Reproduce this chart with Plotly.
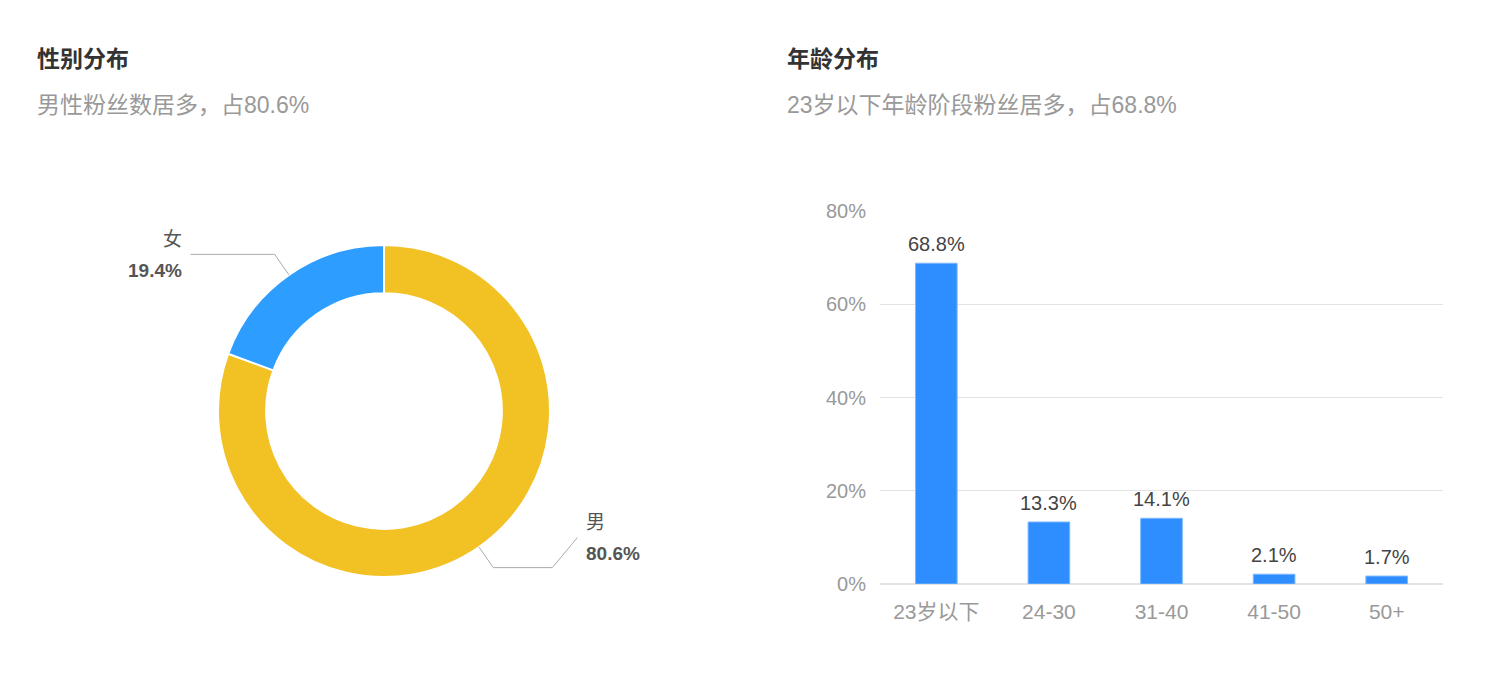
import math

import plotly.graph_objects as go

W, H = 1508, 682
OFF = 8  # page body margin

gender_labels = ["男", "女"]
gender_values = [80.6, 19.4]
gender_colors = ["#F2C124", "#2D9EFF"]

age_labels = ["23岁以下", "24-30", "31-40", "41-50", "50+"]
age_values = [68.8, 13.3, 14.1, 2.1, 1.7]
age_ticks = [0, 20, 40, 60, 80]

FONT = "Liberation Sans, Noto Sans CJK SC, sans-serif"


def fx(x):
    return (x - OFF) / W


def fy(y):
    return 1 - (y - OFF) / H


# donut geometry (pixels)
cx, cy, R = 384, 411, 166

fig = go.Figure()

fig.add_trace(
    go.Pie(
        labels=gender_labels,
        values=gender_values,
        hole=0.71,
        sort=False,
        direction="clockwise",
        rotation=0,
        textinfo="none",
        marker=dict(colors=gender_colors, line=dict(color="white", width=2)),
        domain=dict(x=[fx(cx - R), fx(cx + R)], y=[fy(cy + R), fy(cy - R)]),
        showlegend=False,
        hoverinfo="label+percent",
    )
)

fig.add_trace(
    go.Bar(
        x=age_labels,
        y=[v / 100 for v in age_values],
        width=0.37,
        marker=dict(color="#2E8EFF", line=dict(color="#7DB8FF", width=1)),
        showlegend=False,
        xaxis="x",
        yaxis="y",
    )
)

shapes = []
annotations = []

# leader lines + labels for the donut
total = sum(gender_values)
acc = 0
for lab, val in zip(gender_labels, gender_values):
    mid = math.radians((acc + val / 2) / total * 360)
    acc += val
    sx, sy = cx + R * math.sin(mid), cy - R * math.cos(mid)
    ex, ey = cx + (R + 25) * math.sin(mid), cy - (R + 25) * math.cos(mid)
    if math.sin(mid) < 0:
        hx = ex - 84
        pts = [(sx, sy), (ex, ey), (hx, ey)]
        tx, anchor, ty = hx - 7, "right", ey
    else:
        hx = ex + 59
        pts = [(sx, sy), (ex, ey), (hx, ey), (hx + 25, ey - 30)]
        tx, anchor, ty = hx + 32, "left", ey - 30
    path = "M " + " L ".join(f"{fx(px)},{fy(py)}" for px, py in pts)
    shapes.append(
        dict(type="path", xref="paper", yref="paper", path=path,
             line=dict(color="#AAAAAA", width=1))
    )
    annotations.append(
        dict(x=fx(tx), y=fy(ty - 15), xref="paper", yref="paper", text=lab,
             showarrow=False, xanchor=anchor, yanchor="middle",
             font=dict(size=19, color="#555555"))
    )
    annotations.append(
        dict(x=fx(tx), y=fy(ty + 16), xref="paper", yref="paper",
             text=f"<b>{val}%</b>", showarrow=False, xanchor=anchor,
             yanchor="middle", font=dict(size=19, color="#555555"))
    )

# bar value labels
for lab, val in zip(age_labels, age_values):
    annotations.append(
        dict(x=lab, y=val / 100, xref="x", yref="y", text=f"{val}%",
             showarrow=False, yanchor="bottom", yshift=6,
             font=dict(size=20, color="#444444"))
    )

# titles
for x0, title, sub in [
    (35, "性别分布", "男性粉丝数居多，占80.6%"),
    (785, "年龄分布", "23岁以下年龄阶段粉丝居多，占68.8%"),
]:
    annotations.append(
        dict(x=fx(x0), y=fy(59), xref="paper", yref="paper",
             text=f"<b>{title}</b>", showarrow=False, xanchor="left",
             yanchor="middle", font=dict(size=23, color="#333333"))
    )
    annotations.append(
        dict(x=fx(x0), y=fy(105), xref="paper", yref="paper", text=sub,
             showarrow=False, xanchor="left", yanchor="middle",
             font=dict(size=23, color="#999999"))
    )

fig.update_layout(
    width=W,
    height=H,
    margin=dict(l=0, r=0, t=0, b=0, autoexpand=False),
    paper_bgcolor="white",
    plot_bgcolor="white",
    font=dict(family=FONT),
    shapes=shapes,
    annotations=annotations,
    xaxis=dict(
        domain=[fx(880), fx(1443)],
        range=[-0.5, 4.5],
        automargin=False,
        showgrid=False,
        showline=False,
        zeroline=False,
        ticks="",
        ticklabelstandoff=13,
        tickfont=dict(size=21, color="#999999"),
        fixedrange=True,
    ),
    yaxis=dict(
        domain=[fy(584), fy(211)],
        range=[0, 0.8],
        automargin=False,
        tickvals=[t / 100 for t in age_ticks],
        ticktext=[f"{t}%" for t in age_ticks],
        showgrid=True,
        gridcolor="#E3E3E3",
        gridwidth=1,
        zeroline=True,
        zerolinecolor="#E3E3E3",
        showline=False,
        ticks="",
        ticklabelstandoff=13,
        tickfont=dict(size=20, color="#999999"),
        fixedrange=True,
    ),
)

fig.write_html("out.html")
